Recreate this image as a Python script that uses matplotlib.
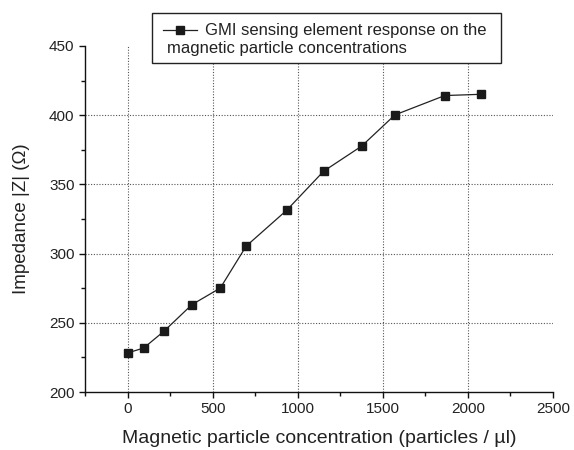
import matplotlib
matplotlib.use("Agg")
import matplotlib.pyplot as plt
from matplotlib.lines import Line2D
from matplotlib.patches import Rectangle
from matplotlib.ticker import MultipleLocator

plt.rcParams['font.family'] = ['Liberation Sans', 'DejaVu Sans']

concentration = [0, 95, 214, 378, 545, 697, 935, 1152, 1376, 1571, 1864, 2077]
impedance = [228.2, 231.8, 243.9, 263.1, 275.1, 305.4, 331.3, 359.5, 377.7, 400.2, 414.2, 415.1]
legend_line1 = "GMI sensing element response on the"
legend_line2 = "magnetic particle concentrations"
xlabel = "Magnetic particle concentration (particles / \u00b5l)"
ylabel = "Impedance |Z| (\u03a9)"

W, H = 574, 450
fig = plt.figure(figsize=(W/100, H/100), dpi=100)
ax = fig.add_axes([85/W, 1-392/H, (553-85)/W, (392-46)/H])

tc = '#222222'
ax.plot(concentration, impedance, '-', color='#222222', lw=0.9,
        marker='s', ms=5.5, mfc='#1a1a1a', mec='#1a1a1a', zorder=3)

ax.set_xlim(-250, 2500)
ax.set_ylim(200, 450)
ax.xaxis.set_major_locator(MultipleLocator(500))
ax.xaxis.set_minor_locator(MultipleLocator(250))
ax.yaxis.set_major_locator(MultipleLocator(50))
ax.yaxis.set_minor_locator(MultipleLocator(25))

for s in ['top', 'right']:
    ax.spines[s].set_visible(False)
for s in ['left', 'bottom']:
    ax.spines[s].set_linewidth(1.0)
    ax.spines[s].set_color('#111111')

ax.tick_params(which='major', direction='out', length=4.5, width=1.0, color='#111111',
               labelsize=11, labelcolor=tc, pad=3)
ax.tick_params(which='minor', direction='out', length=3, width=1.0, color='#111111')

for xv in [0, 500, 1000, 1500, 2000]:
    ax.axvline(xv, color='#555555', lw=0.8, ls=(0, (1, 1.5)), zorder=1)
for yv in [250, 300, 350, 400]:
    ax.axhline(yv, color='#555555', lw=0.8, ls=(0, (1, 1.5)), zorder=1)

ax.set_xlabel(xlabel, fontsize=14, color=tc, labelpad=10)
ax.set_ylabel(ylabel, fontsize=13.5, color=tc, labelpad=14)

# legend box
fig.patches.append(Rectangle((152/W, 1-63/H), (501-152)/W, (63-13)/H,
                             transform=fig.transFigure, facecolor='white',
                             edgecolor='#222222', lw=1.0, zorder=5))
fig.lines.append(Line2D([163/W, 197/W], [1-30/H, 1-30/H], transform=fig.transFigure,
                        color='#222222', lw=0.9, zorder=6))
fig.lines.append(Line2D([180/W], [1-30/H], transform=fig.transFigure,
                        color='#222222', marker='s', ms=5.5, mfc='#1a1a1a',
                        mec='#1a1a1a', zorder=6))
fig.text(205/W, 1-30/H, legend_line1, fontsize=12, color=tc, va='center', ha='left', zorder=7)
fig.text(167/W, 1-49/H, legend_line2, fontsize=12, color=tc, va='center', ha='left', zorder=7)

fig.savefig('out.png', dpi=100)
